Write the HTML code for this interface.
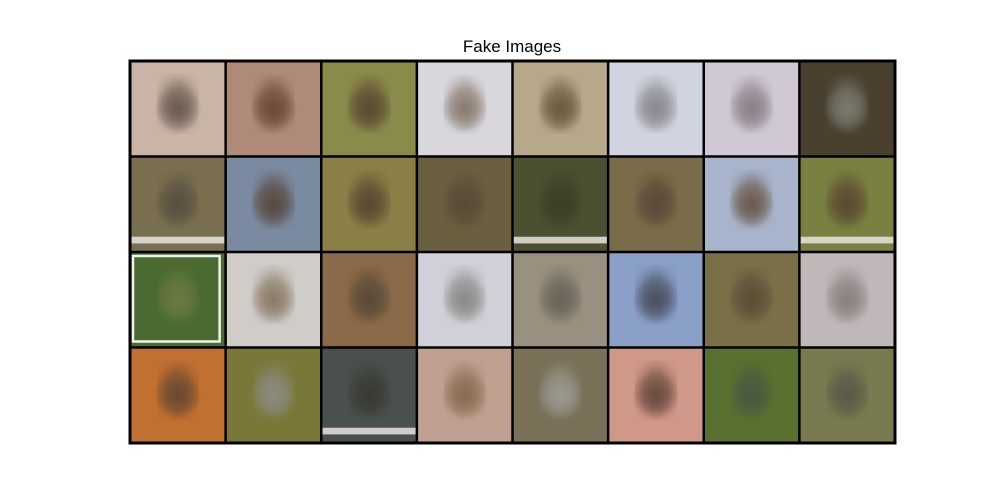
<!DOCTYPE html>
<html><head><meta charset="utf-8"><style>
html,body{margin:0;padding:0;background:#fff;width:1000px;height:500px;overflow:hidden}
svg{display:block}
</style></head><body>
<svg id="chart" width="1000" height="500">
<text x="512" y="52" text-anchor="middle" font-family="Liberation Sans, DejaVu Sans, sans-serif" font-size="17" fill="#000">Fake Images</text>
<g id="grid"></g>
</svg>
<script>
const bgColors = [
 "#c9b4a6","#b08a78","#8a8a4a","#d8d8dc","#b8a88a","#d0d4e0","#d0c8d4","#4a4030",
 "#7a7050","#7a8aa0","#8a8048","#6a6040","#4a5030","#7a6c48","#a8b4cc","#7a8040",
 "#4a6a30","#d0ccc8","#8a6a48","#d0d0d8","#9a9080","#8aa0c8","#7a7048","#c0b8b8",
 "#c07030","#7a7838","#4a5050","#c0a090","#7a7058","#d09888","#5a7030","#7a7a50"
];
const birdColors = [
 "#6a5a50","#6a4a38","#5a4a30","#8a7a70","#6a5a40","#8a8890","#8a8088","#7a7a70",
 "#5a5040","#5a4a40","#5a4a30","#5a4a38","#3a4028","#5a4a38","#6a5a48","#5a4a30",
 "#6a7a40","#8a7a68","#5a4a38","#8a8a88","#6a6458","#4a5060","#5a5038","#8a8080",
 "#6a4a30","#8a8a80","#3a3a30","#8a6a50","#9a9a90","#6a4a40","#4a5a40","#5a5a48"
];
const stripeTiles = [8, 12, 15, 26];
const NS="http://www.w3.org/2000/svg";
const g=document.getElementById('grid');
const defs=document.createElementNS(NS,'defs');
defs.innerHTML='<filter id="blur"><feGaussianBlur stdDeviation="6"/></filter>';
document.getElementById('chart').appendChild(defs);
const x0=130,y0=61,x1=895,y1=443,cols=8,rows=4;
const cw=(x1-x0)/cols,ch=(y1-y0)/rows;
for(let i=0;i<bgColors.length;i++){
 const c=i%cols,r=Math.floor(i/cols);
 const x=x0+c*cw,y=y0+r*ch;
 const grad=document.createElementNS(NS,'radialGradient');
 grad.setAttribute('id','gr'+i);
 grad.innerHTML='<stop offset="0" stop-color="'+birdColors[i]+'"/><stop offset="0.5" stop-color="'+bgColors[i]+'"/><stop offset="1" stop-color="'+bgColors[i]+'"/>';
 defs.appendChild(grad);
 const rect=document.createElementNS(NS,'rect');
 rect.setAttribute('x',x);rect.setAttribute('y',y);
 rect.setAttribute('width',cw);rect.setAttribute('height',ch);
 rect.setAttribute('fill','url(#gr'+i+')');
 
 
 g.appendChild(rect);
 const bird=document.createElementNS(NS,'ellipse');
 bird.setAttribute('cx',x+cw*0.5);bird.setAttribute('cy',y+ch*0.45);
 bird.setAttribute('rx',cw*0.18);bird.setAttribute('ry',ch*0.26);
 bird.setAttribute('fill',birdColors[i]);bird.setAttribute('opacity','0.6');
 bird.setAttribute('filter','url(#blur)');
 
 
 g.appendChild(bird);
 if(stripeTiles.includes(i)){
  const s=document.createElementNS(NS,'rect');
  s.setAttribute('x',x);s.setAttribute('y',y+ch*0.84);
  s.setAttribute('width',cw);s.setAttribute('height',ch*0.07);
  s.setAttribute('fill','#e8e4e0');s.setAttribute('opacity','0.85');
  
  
  g.appendChild(s);
 }
 if(i===16){
  const f=document.createElementNS(NS,'rect');
  f.setAttribute('x',x+3);f.setAttribute('y',y+4);
  f.setAttribute('width',cw-9);f.setAttribute('height',ch-10);
  f.setAttribute('fill','none');f.setAttribute('stroke','#f0f0f0');f.setAttribute('stroke-width','2.5');
  
  
  g.appendChild(f);
 }
}
for(let c=0;c<=cols;c++){
 const l=document.createElementNS(NS,'line');
 l.setAttribute('x1',x0+c*cw);l.setAttribute('x2',x0+c*cw);
 l.setAttribute('y1',y0);l.setAttribute('y2',y1);
 l.setAttribute('stroke','#000');l.setAttribute('stroke-width',c==0||c==cols?3:2.5);
 
 
 g.appendChild(l);
}
for(let r=0;r<=rows;r++){
 const l=document.createElementNS(NS,'line');
 l.setAttribute('y1',y0+r*ch);l.setAttribute('y2',y0+r*ch);
 l.setAttribute('x1',x0-1.5);l.setAttribute('x2',x1+1.5);
 l.setAttribute('stroke','#000');l.setAttribute('stroke-width',r==0||r==rows?3:2.5);
 
 
 g.appendChild(l);
}
</script>
</body></html>
